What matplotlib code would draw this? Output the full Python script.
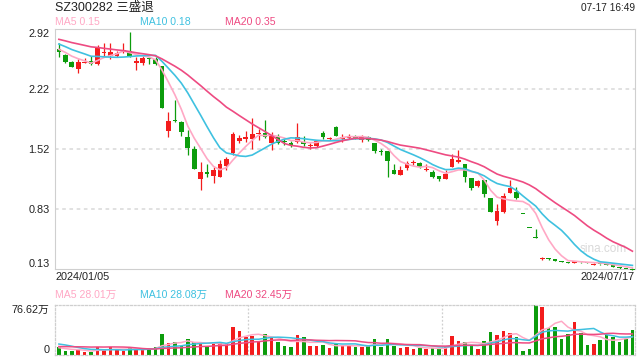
import numpy as np
import matplotlib
matplotlib.use("Agg")
import matplotlib.pyplot as plt

plt.rcParams['font.family'] = ['Liberation Sans', 'Noto Sans CJK SC', 'DejaVu Sans']

# ---------------- data ----------------
title = "SZ300282 三盛退"
stamp = "07-17 16:49"
start_date = "2024/01/05"
end_date = "2024/07/17"

opens = [2.682, 2.618, 2.54, 2.451, 2.53, 2.552, 2.51, 2.645, 2.607, 2.607,
         2.65, 2.664, 2.53, 2.53, 2.58, 2.568, 2.49, 1.734, 1.855, 1.842,
         1.66, 1.52, 1.176, 1.25, 1.215, 1.196, 1.327, 1.475, 1.618, 1.638,
         1.638, 1.696, 1.715, 1.598, 1.668, 1.61, 1.598, 1.61, 1.61, 1.56,
         1.56, 1.715, 1.64, 1.785, 1.641, 1.65, 1.676, 1.63, 1.66, 1.591,
         1.49, 1.50, 1.28, 1.223, 1.307, 1.36, 1.358, 1.28, 1.26, 1.21,
         1.176, 1.31, 1.37, 1.35, 1.184, 1.098, 1.165, 0.959, 0.688, 0.796,
         1.017, 1.02, 0.766, 0.603, 0.487, 0.246, 0.245, 0.243, 0.223, 0.215,
         0.205, 0.215, 0.208, 0.18, 0.192, 0.183, 0.172, 0.155, 0.14, 0.135]
highs = [2.754, 2.625, 2.55, 2.568, 2.58, 2.61, 2.734, 2.76, 2.76, 2.67,
         2.754, 2.88, 2.60, 2.605, 2.598, 2.60, 2.49, 1.958, 2.095, 1.85,
         1.745, 1.56, 1.37, 1.347, 1.32, 1.40, 1.436, 1.725, 1.69, 1.734,
         1.88, 1.755, 1.862, 1.726, 1.70, 1.65, 1.618, 1.823, 1.676, 1.598,
         1.63, 1.738, 1.66, 1.79, 1.70, 1.70, 1.69, 1.69, 1.676, 1.591,
         1.52, 1.50, 1.347, 1.327, 1.39, 1.397, 1.377, 1.35, 1.28, 1.21,
         1.28, 1.467, 1.513, 1.35, 1.184, 1.17, 1.165, 0.959, 0.882, 1.01,
         1.17, 1.08, 0.766, 0.603, 0.592, 0.273, 0.255, 0.245, 0.225, 0.217,
         0.220, 0.216, 0.21, 0.195, 0.193, 0.185, 0.174, 0.156, 0.141, 0.136]
lows = [2.598, 2.528, 2.475, 2.405, 2.52, 2.50, 2.50, 2.61, 2.57, 2.59,
        2.64, 2.59, 2.44, 2.50, 2.51, 2.50, 2.00, 1.668, 1.84, 1.676,
        1.455, 1.296, 1.048, 1.20, 1.126, 1.196, 1.28, 1.46, 1.59, 1.61,
        1.52, 1.63, 1.65, 1.514, 1.58, 1.57, 1.545, 1.59, 1.56, 1.52,
        1.545, 1.64, 1.63, 1.68, 1.605, 1.645, 1.645, 1.61, 1.618, 1.475,
        1.455, 1.203, 1.24, 1.223, 1.28, 1.338, 1.30, 1.27, 1.185, 1.157,
        1.176, 1.31, 1.36, 1.145, 1.048, 1.08, 0.97, 0.796, 0.641, 0.78,
        1.017, 0.94, 0.766, 0.603, 0.487, 0.235, 0.235, 0.223, 0.213, 0.203,
        0.203, 0.205, 0.198, 0.178, 0.180, 0.172, 0.152, 0.135, 0.128, 0.118]
closes = [2.647, 2.54, 2.482, 2.54, 2.54, 2.51, 2.696, 2.657, 2.656, 2.64,
          2.675, 2.598, 2.55, 2.58, 2.57, 2.51, 2.005, 1.85, 1.845, 1.726,
          1.54, 1.296, 1.254, 1.24, 1.28, 1.35, 1.41, 1.70, 1.649, 1.668,
          1.70, 1.715, 1.668, 1.676, 1.598, 1.605, 1.568, 1.668, 1.58, 1.57,
          1.618, 1.668, 1.657, 1.68, 1.668, 1.676, 1.657, 1.668, 1.63, 1.505,
          1.485, 1.386, 1.24, 1.28, 1.358, 1.37, 1.32, 1.29, 1.203, 1.176,
          1.23, 1.405, 1.397, 1.203, 1.075, 1.153, 0.998, 0.796, 0.804, 0.978,
          1.075, 0.95, 0.766, 0.603, 0.487, 0.250, 0.243, 0.225, 0.215, 0.205,
          0.218, 0.208, 0.200, 0.192, 0.183, 0.175, 0.155, 0.138, 0.13, 0.12]
# direction of each day (1 = up/red, 0 = down/green)
up = [0, 0, 0, 1, 1, 0, 1, 1, 1, 1, 1, 0, 1, 1, 0, 0, 0, 1, 0, 0,
      0, 0, 1, 0, 1, 1, 1, 1, 1, 1, 1, 1, 0, 1, 0, 0, 0, 1, 0, 1,
      1, 0, 1, 0, 1, 1, 0, 1, 0, 0, 0, 0, 0, 1, 1, 1, 0, 1, 0, 0,
      1, 1, 1, 0, 0, 1, 0, 0, 1, 1, 1, 0, 0, 0, 0, 1, 0, 0, 0, 0,
      1, 0, 0, 1, 0, 0, 0, 0, 0, 0]
# volume in 万
volumes = [11.8, 6.1, 6.1, 7.7, 5.1, 5.1, 11.8, 7.7, 11.8, 7.7,
           6.6, 11.8, 7.7, 8.7, 10.2, 11.8, 32.2, 17.9, 19.4, 14.3,
           24.5, 20.4, 16.9, 13.8, 16.3, 17.9, 17.9, 42.4, 37.3, 28.1,
           29.6, 21.5, 31.7, 27.1, 20.4, 13.8, 11.8, 30.6, 27.1, 13.8,
           13.8, 15.3, 11.2, 16.9, 13.8, 15.3, 12.8, 12.8, 14.3, 24.0,
           11.8, 24.5, 14.3, 11.2, 12.8, 9.7, 11.2, 9.7, 10.2, 9.2,
           11.8, 29.1, 21.9, 19.4, 14.8, 9.2, 21.5, 35.2, 30.6, 36.8,
           33.2, 27.1, 6.1, 9.2, 76.62, 74.0, 40.9, 42.4, 24.5, 31.7,
           51.1, 33.2, 15.3, 16.9, 23.0, 30.6, 27.1, 20.4, 24.5, 38.3]
# closes / volumes of the 19 sessions before the window (for the moving averages)
prev_closes = [2.90, 2.88, 2.86, 2.87, 2.85, 2.84, 2.86, 2.83, 2.84, 2.82,
               2.84, 2.82, 2.80, 2.79, 2.78, 2.72, 2.70, 2.69, 2.663]
prev_volumes = [8, 10, 9, 8, 11, 9, 10, 8, 9, 9,
                20, 25, 28, 22, 17, 13, 12, 10, 9.2]

price_ticks = [0.13, 0.8275, 1.525, 2.2225, 2.92]
price_tick_labels = ["0.13", "0.83", "1.52", "2.22", "2.92"]
vol_max = 76.62
vol_tick_labels = ["0", "76.62万"]
price_legend = ["MA5 0.15", "MA10 0.18", "MA20 0.35"]
vol_legend = ["MA5 28.01万", "MA10 28.08万", "MA20 32.45万"]

# ---------------- style ----------------
RED = "#f31c1c"
GREEN = "#0c9c0c"
MA_COLORS = ["#ffa8c5", "#3fc1e0", "#ee4b82"]
GRID = "#dedede"
BORDER = "#cfcfcf"
W, H = 640, 360


def fx(px):
    return px / W


def fy(py):
    return 1 - py / H


def ma(series, prev, n):
    full = np.array(list(prev) + list(series), dtype=float)
    out = np.convolve(full, np.ones(n) / n, mode="valid")
    return out[-len(series):]


fig = plt.figure(figsize=(6.4, 3.6), dpi=100)
fig.patch.set_facecolor("white")

n = len(closes)
x = np.arange(n)
o = np.array(opens); c = np.array(closes); h = np.array(highs); l = np.array(lows)
cols = [RED if u else GREEN for u in up]

# ---------- price panel ----------
ax = fig.add_axes([fx(55), fy(269), fx(580), 240 / H])
ax.set_xlim(-0.6, n - 0.6)
ax.set_ylim(price_ticks[0], price_ticks[-1])
for sp in ax.spines.values():
    sp.set_color(BORDER)
    sp.set_linewidth(0.8)
for t in price_ticks[1:-1]:
    ax.axhline(t, color=GRID, lw=1.3, ls=(0, (2, 2)), zorder=0)

ax.vlines(x, l, h, colors=cols, lw=0.9, zorder=2, clip_on=False)
bottoms = np.minimum(o, c)
heights = np.maximum(np.abs(c - o), 0.012)
ax.bar(x, heights, bottom=bottoms, width=0.72, color=cols, lw=0, zorder=3,
       clip_on=False)

for k, nn in enumerate([5, 10, 20]):
    ax.plot(x, ma(closes, prev_closes, nn), color=MA_COLORS[k], lw=1.2, zorder=4)

ax.set_yticks(price_ticks)
ax.set_yticklabels(price_tick_labels)
ax.tick_params(axis="y", length=0, pad=4, labelsize=7.8, labelcolor="#222222")
ax.set_xticks([])
lbls = ax.get_yticklabels()
lbls[0].set_va("bottom")
lbls[-1].set_va("top")

ax.text(0, -8 / 240, start_date, transform=ax.transAxes, ha="left", va="center",
        fontsize=7.8, color="#222222")
ax.text(1, -8 / 240, end_date, transform=ax.transAxes, ha="right", va="center",
        fontsize=7.8, color="#222222")
ax.text(fx(603 - 55) / fx(580), (269 - 249.5) / 240, "sina.com", transform=ax.transAxes,
        ha="center", va="center", fontsize=8.5, color="#d9d9d9", zorder=1)

# ---------- volume panel ----------
vx = fig.add_axes([fx(55), fy(355), fx(580), 50 / H])
vx.set_xlim(-0.6, n - 0.6)
vx.set_ylim(0, vol_max)
for sp in vx.spines.values():
    sp.set_color(BORDER)
    sp.set_linewidth(0.9)
    sp.set_linestyle((0, (1.5, 1.5)))
for frac in (1 / 3, 2 / 3):
    vx.axvline(frac * (n) - 0.6, color=BORDER, lw=0.9, ls=(0, (1.5, 1.5)), zorder=0)
vx.bar(x, volumes, width=0.55, color=cols, lw=0, zorder=2)
for k, nn in enumerate([5, 10, 20]):
    vx.plot(x, ma(volumes, prev_volumes, nn), color=MA_COLORS[k], lw=1.1, zorder=3)
vx.set_yticks([0, vol_max])
vx.set_yticklabels(vol_tick_labels)
vx.tick_params(axis="y", length=0, pad=4, labelsize=7.8, labelcolor="#222222")
vx.set_xticks([])
vl = vx.get_yticklabels()
vl[0].set_va("bottom")
vl[-1].set_va("top")

# ---------- header texts ----------
fig.text(fx(55), fy(8), title, ha="left", va="center", fontsize=9, color="#222222")
fig.text(fx(635), fy(8), stamp, ha="right", va="center", fontsize=7.3, color="#222222")
for k, xp in enumerate([55, 140, 225]):
    fig.text(fx(xp), fy(22), price_legend[k], ha="left", va="center",
             fontsize=7.6, color=MA_COLORS[k])
    fig.text(fx(xp), fy(294.5), vol_legend[k], ha="left", va="center",
             fontsize=7.6, color=MA_COLORS[k])

fig.savefig("out.png", dpi=100, facecolor="white")
